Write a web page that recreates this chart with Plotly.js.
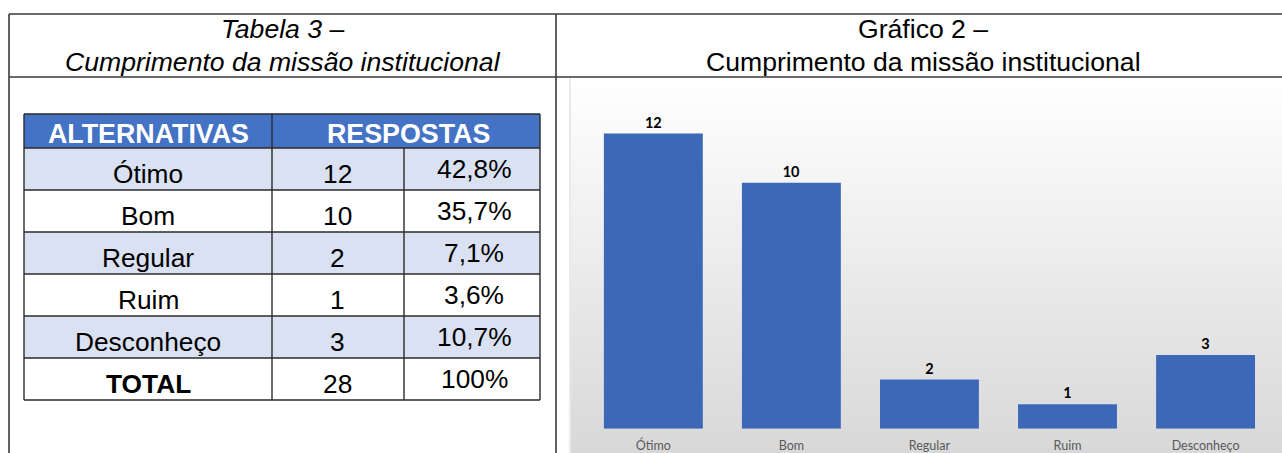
<!DOCTYPE html>
<html><head><meta charset="utf-8">
<script src="https://cdn.plot.ly/plotly-3.0.1.min.js"></script>
<style>html,body{margin:0;padding:0;background:#fff;overflow:hidden}#chart{width:1282px;height:453px}</style>
</head><body><div id="chart"></div>
<script>
// ---- Data ----
const categories = ['Ótimo', 'Bom', 'Regular', 'Ruim', 'Desconheço'];
const counts = [12, 10, 2, 1, 3];
const percents = ['42,8%', '35,7%', '7,1%', '3,6%', '10,7%'];
const totalRow = ['TOTAL', '28', '100%'];
const headerLabels = ['ALTERNATIVAS', 'RESPOSTAS'];
const tableTitle = ['Tabela 3 –', 'Cumprimento da missão institucional'];
const chartTitle = ['Gráfico 2 –', 'Cumprimento da missão institucional'];

// ---- Geometry helpers (pixel -> paper) ----
const W = 1282, H = 453;
const px = x => x / W, py = y => 1 - y / H;
const ARIAL = 'Liberation Sans, Arial, sans-serif';
const LINE = '#2b2b2b';

const shapes = [], annotations = [];
function line(x0, y0, x1, y1, color, width) {
  shapes.push({type: 'line', xref: 'paper', yref: 'paper', x0: px(x0), y0: py(y0), x1: px(x1), y1: py(y1),
    line: {color: color, width: width}, layer: 'above'});
}
function rect(x0, y0, x1, y1, fill) {
  shapes.push({type: 'rect', xref: 'paper', yref: 'paper', x0: px(x0), y0: py(y0), x1: px(x1), y1: py(y1),
    fillcolor: fill, line: {width: 0}, layer: 'below'});
}
function text(t, x, y, size, opts) {
  opts = opts || {};
  annotations.push({xref: 'paper', yref: 'paper', x: px(x), y: py(y), xanchor: 'center', yanchor: 'middle',
    text: t, showarrow: false, font: {family: ARIAL, size: size, color: opts.color || '#000'}});
}

// ---- Outer frame ----
line(9, 14, W, 14, '#3a3a3a', 1.6);
line(9, 77, W, 77, '#3a3a3a', 1.6);
line(9, 14, 9, H, '#3a3a3a', 1.6);
line(556, 14, 556, H, '#3a3a3a', 1.6);

// Titles
text('<i>' + tableTitle[0] + '</i>', 282.5, 29, 26.6);
text('<i>' + tableTitle[1] + '</i>', 282.5, 62, 26.6);
text(chartTitle[0], 923, 29, 26.6);
text(chartTitle[1], 923, 62, 26.6);

// ---- Table ----
const colX = [24, 272, 404, 540];
const headTop = 114, headBot = 148, rowH = 42;
const rows = categories.map((c, i) => [c, String(counts[i]), percents[i]]).concat([totalRow]);
const tableBot = headBot + rowH * rows.length;
rect(colX[0], headTop, colX[3], headBot, '#4472c4');
rows.forEach((r, i) => {
  const y0 = headBot + rowH * i;
  rect(colX[0], y0, colX[3], y0 + rowH, i % 2 === 0 && i < rows.length - 1 ? '#d9e1f2' : '#ffffff');
});
// grid lines
line(colX[0], headTop, colX[3], headTop, LINE, 1.4);
for (let i = 0; i <= rows.length; i++) line(colX[0], headBot + rowH * i, colX[3], headBot + rowH * i, LINE, 1.4);
line(colX[0], headTop, colX[0], tableBot, LINE, 1.4);
line(colX[1], headTop, colX[1], tableBot, LINE, 1.4);
line(colX[2], headBot, colX[2], tableBot, LINE, 1.4);
line(colX[3], headTop, colX[3], tableBot, LINE, 1.4);
// header text
text('<b>' + headerLabels[0] + '</b>', (colX[0] + colX[1]) / 2, 134, 26.8, {color: '#ffffff'});
text('<b>' + headerLabels[1] + '</b>', (colX[1] + colX[3]) / 2 + 2, 134, 26.8, {color: '#ffffff'});
rows.forEach((r, i) => {
  const c = headBot + rowH * i + rowH / 2;
  const isTotal = i === rows.length - 1;
  text(isTotal ? '<b>' + r[0] + '</b>' : r[0], (colX[0] + colX[1]) / 2, c + 5, 26.3);
  text(r[1], (colX[1] + colX[2]) / 2, c + 5, 26.3);
  text(r[2], (colX[2] + colX[3]) / 2 + 2, c, 26.3);
});

// ---- Chart area ----
line(570, 78, 570, H, '#d4d4d4', 1);

const bg = {
  type: 'scatter', mode: 'lines', x: [0, 1, 1, 0, 0], y: [0, 0, 1, 1, 0], fill: 'toself',
  fillgradient: {type: 'vertical', colorscale: [[0, '#d8d8d8'], [1, '#ffffff']]},
  line: {width: 0, color: 'rgba(0,0,0,0)'}, hoverinfo: 'skip', xaxis: 'x', yaxis: 'y'
};
const bars = {
  type: 'bar', x: categories, y: counts, xaxis: 'x2', yaxis: 'y2',
  marker: {color: '#3d68b8', line: {width: 0}},
  text: counts.map(String), textposition: 'outside', cliponaxis: false,
  textfont: {family: 'Lato, sans-serif', size: 14.5, color: '#000', weight: 'bold'},
  hoverinfo: 'skip'
};

const layout = {
  width: W, height: H, margin: {l: 0, r: 0, t: 0, b: 0},
  paper_bgcolor: '#ffffff', plot_bgcolor: 'rgba(0,0,0,0)', showlegend: false,
  bargap: 0.2836,
  xaxis: {domain: [px(571), 1], range: [0, 1], visible: false, fixedrange: true},
  yaxis: {domain: [0, py(78)], range: [0, 1], visible: false, fixedrange: true},
  xaxis2: {domain: [px(584.3), px(1274.6)], anchor: 'y2', showgrid: false, zeroline: false, showline: false,
    ticks: '', ticklabelstandoff: 8, tickfont: {family: 'Lato, sans-serif', size: 12.5, color: '#595959'}},
  yaxis2: {domain: [py(428.8), py(80)], anchor: 'x2', range: [0, 14.18], visible: false},
  shapes: shapes, annotations: annotations
};
Plotly.newPlot('chart', [bg, bars], layout, {staticPlot: true, displayModeBar: false});
</script></body></html>
